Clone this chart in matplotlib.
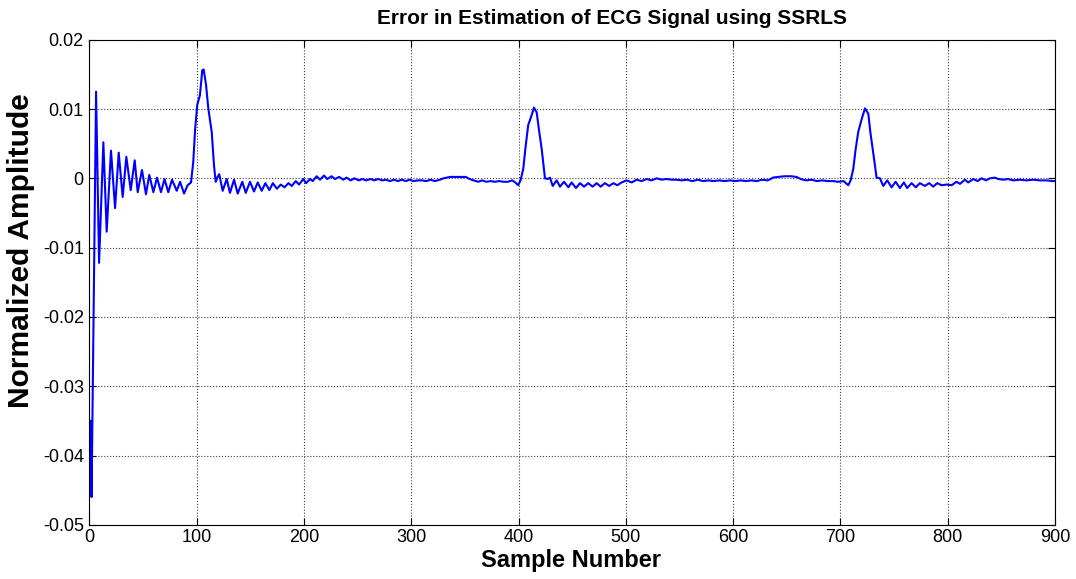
import matplotlib
matplotlib.use('Agg')
import matplotlib.pyplot as plt
import numpy as np

# Error signal (sample index, amplitude in 1e-3 units)
sample_idx = [
    1, 2, 6.2, 9, 13, 16.1, 20.1, 23.9, 27.3, 31, 34.4, 38.5, 42.2, 45, 49, 52.7,
    55.8, 59.6, 63, 66.7, 70, 73.5, 77, 81.4, 84.5, 88.2, 91.5, 94.7, 96.8, 98.5,
    100.5, 103, 105.2, 106.5, 108.7, 110.8, 114, 116.1, 117.7, 119.5, 121, 124.2,
    128, 131, 134.8, 138.2, 142.5, 145.7, 149.7, 153.4, 156.9, 160.6, 164, 167.7,
    171, 174.7, 178.4, 181.8, 185.5, 188.6, 192.3, 195.4, 199.4, 201.9, 205.6,
    208.1, 211.8, 214.9, 218.6, 221.7, 225.7, 228.8, 232.8, 236.6, 239.7, 243.5,
    247, 251, 254.5, 258, 262, 265.5, 269, 273, 276.5, 280, 284, 287.5, 291, 295,
    298.5, 302, 306, 310, 314, 318, 322, 326.7, 330, 333, 336, 340, 345, 350.7,
    354.4, 358, 362.4, 366, 370, 374, 378, 382, 386, 390, 394, 397, 399.7, 402,
    404.4, 406.5, 409, 411.5, 414.4, 416.9, 419, 421.5, 424.6, 427, 429.3, 431.8,
    435.5, 438.6, 442.3, 446.4, 449.5, 453.5, 457.3, 461, 465, 469, 472.8, 476.5,
    480.5, 484.5, 488.3, 492, 496, 500.7, 505.4, 510, 514.7, 519.4, 524, 528.7,
    533.3, 538, 542.6, 547.3, 552, 557, 562, 567, 572, 577, 582, 587, 592, 597,
    602, 607, 612, 617, 622, 627, 632, 635, 637, 642, 648, 654, 659, 663, 668,
    673, 678, 683, 688, 693, 698, 703, 707.3, 709.5, 712, 714, 716.6, 719.7,
    722.9, 726, 728, 730, 733.7, 736.8, 739.9, 743.6, 747.7, 751.4, 755.4, 759.1,
    762.2, 766.3, 770.3, 774, 778.7, 782.7, 786.5, 790.2, 794.3, 798.9, 803.6,
    808.2, 811.4, 816, 819.1, 823.8, 827.8, 831.5, 835.6, 839.3, 844, 847, 851.7,
    856.4, 861, 867.2, 873.4, 879.6, 885.8, 892, 898, 900,
]
error_milli = [
    -35, -46, 12.5, -12.2, 5.2, -7.7, 4.0, -4.3, 3.7, -2.7, 3.1, -1.7, 2.6, -2.0, 1.2, -2.3,
    0.5, -2.0, 0.1, -2.0, -0.1, -2.0, -0.2, -1.8, -0.5, -2.2, -1.0, -0.6, 2.4, 7.0,
    10.6, 12.0, 15.6, 15.7, 13.5, 10.1, 6.7, 1.9, -0.5, 0.2, 0.6, -1.8,
    -0.1, -2.1, -0.2, -2.2, -0.5, -2.1, -0.5, -1.9, -0.6, -1.8, -0.7, -1.7,
    -0.7, -1.5, -0.9, -1.3, -0.7, -1.1, -0.4, -0.9, -0.1, -0.7, -0.1,
    -0.4, 0.3, -0.2, 0.4, -0.1, 0.3, -0.1, 0.2, -0.2, 0.1, -0.3,
    0.0, -0.3, -0.1, -0.3, -0.1, -0.3, -0.1, -0.3, -0.2, -0.4, -0.2, -0.4, -0.2, -0.4,
    -0.2, -0.4, -0.3, -0.3, -0.4, -0.2, -0.4, -0.2, 0.0, 0.1, 0.2, 0.2, 0.2, 0.2,
    -0.1, -0.3, -0.5, -0.3, -0.5, -0.4, -0.5, -0.4, -0.5, -0.5, -0.3, -0.6, -1.0, -0.2,
    1.4, 4.5, 7.7, 8.8, 10.2, 9.5, 7.0, 4.3, 0.0, -0.1, 0.1, -1.1,
    -0.3, -1.2, -0.5, -1.3, -0.6, -1.4, -0.7, -1.2, -0.7, -1.2, -0.7, -1.2,
    -0.7, -1.1, -0.7, -1.0, -0.6, -0.3, -0.6, -0.2, -0.4, -0.1, -0.3, 0.0,
    -0.2, -0.1, -0.2, -0.2, -0.3, -0.2, -0.4, -0.2, -0.4, -0.3, -0.4, -0.3, -0.4, -0.3,
    -0.4, -0.3, -0.4, -0.3, -0.4, -0.2, -0.3, -0.1, 0.1, 0.2, 0.3, 0.3, 0.2, -0.1, -0.3,
    -0.2, -0.4, -0.3, -0.4, -0.4, -0.5, -0.4, -1.0, -0.3, 1.4, 4.0, 6.7, 8.5,
    10.1, 9.3, 6.5, 4.3, 0.1, 0.0, -1.1, -0.3, -1.3, -0.5, -1.4, -0.6,
    -1.4, -0.7, -1.3, -0.7, -1.1, -0.7, -1.2, -0.7, -1.0, -0.9, -1.0,
    -0.5, -0.8, -0.2, -0.6, -0.1, -0.4, 0.0, -0.3, 0.0, 0.1, -0.1, -0.2,
    -0.1, -0.3, -0.2, -0.3, -0.2, -0.3, -0.3, -0.4, -0.4,
]

x_ticks = list(range(0, 901, 100))
y_ticks = [-0.05, -0.04, -0.03, -0.02, -0.01, 0, 0.01, 0.02]
y_tick_labels = ['-0.05', '-0.04', '-0.03', '-0.02', '-0.01', '0', '0.01', '0.02']

plt.rcParams['font.family'] = ['Liberation Sans', 'DejaVu Sans']

W, H = 1076, 579
fig = plt.figure(figsize=(W / 100, H / 100), dpi=100)
ax = fig.add_axes([0.0831, 0.0936, 0.8974, 0.8378])

ax.plot(sample_idx, np.array(error_milli) * 1e-3, color='#0000ff', lw=1.5)

ax.set_xlim(0, 900)
ax.set_ylim(-0.05, 0.02)
ax.set_xticks(x_ticks)
ax.set_yticks(y_ticks)
ax.set_yticklabels(y_tick_labels)
ax.tick_params(direction='in', top=True, right=True, labelsize=13, length=5, width=0.8)
ax.tick_params(axis='x', pad=3)
ax.tick_params(axis='y', pad=4)
ax.grid(True, color='#404040', linestyle=':', linewidth=0.8)
for s in ax.spines.values():
    s.set_linewidth(0.8)

# MATLAB-style text placement (title and ylabel sit off-centre in the original)
fig.text(612 / W, 1 - 19 / H, 'Error in Estimation of ECG Signal using SSRLS',
         ha='center', va='center', fontsize=15, fontweight='bold')
fig.text(571 / W, 1 - 561 / H, 'Sample Number', ha='center', va='center',
         fontsize=17, fontweight='bold')
fig.text(21 / W, 1 - 251 / H, 'Normalized Amplitude', ha='center', va='center',
         rotation=90, fontsize=21.5, fontweight='bold')

fig.savefig('out.png', dpi=100)
